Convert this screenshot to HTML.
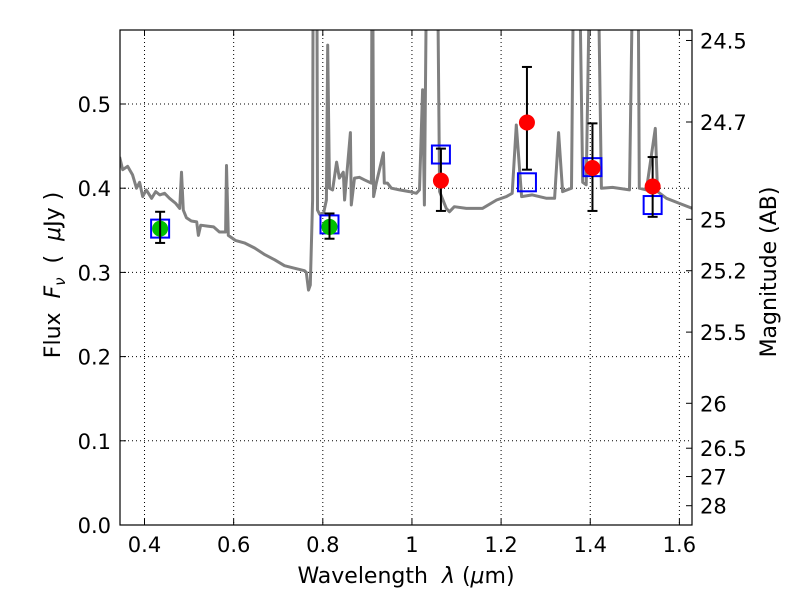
<!DOCTYPE html>
<html><head><meta charset="utf-8"><style>
body{margin:0;background:#fff;}
svg text{font-family:"DejaVu Sans","Liberation Sans",sans-serif;white-space:pre;}
</style></head><body>
<svg id="chart" width="800" height="600" xmlns="http://www.w3.org/2000/svg"></svg>
<script>
const specLam=[0.344,0.351,0.362,0.373,0.382,0.389,0.396,0.404,0.416,0.425,0.434,0.445,0.456,0.470,0.479,0.483,0.487,0.494,0.505,0.517,0.521,0.526,0.541,0.555,0.568,0.582,0.584,0.588,0.604,0.624,0.647,0.670,0.692,0.714,0.736,0.759,0.763,0.768,0.772,0.777,0.779,0.786,0.788,0.793,0.802,0.808,0.811,0.815,0.822,0.831,0.837,0.846,0.849,0.862,0.864,0.871,0.882,0.893,0.909,0.911,0.914,0.920,0.936,0.938,0.945,0.954,0.972,0.994,1.010,1.017,1.024,1.028,1.035,1.055,1.062,1.077,1.084,1.095,1.122,1.158,1.190,1.212,1.225,1.234,1.246,1.270,1.302,1.320,1.329,1.338,1.358,1.365,1.372,1.383,1.391,1.403,1.414,1.425,1.450,1.488,1.499,1.506,1.510,1.526,1.546,1.551,1.571,1.600,1.629];
const specFlux=[0.437,0.422,0.426,0.416,0.400,0.407,0.390,0.398,0.388,0.396,0.392,0.394,0.388,0.382,0.376,0.419,0.374,0.365,0.361,0.360,0.344,0.356,0.355,0.354,0.348,0.348,0.427,0.344,0.338,0.335,0.329,0.321,0.315,0.308,0.305,0.302,0.300,0.279,0.285,0.386,0.8,0.8,0.374,0.369,0.371,0.386,0.570,0.400,0.398,0.431,0.412,0.419,0.386,0.466,0.380,0.412,0.413,0.410,0.406,0.8,0.390,0.406,0.442,0.406,0.406,0.400,0.398,0.396,0.394,0.398,0.517,0.380,0.8,0.8,0.396,0.376,0.372,0.378,0.376,0.376,0.386,0.390,0.394,0.475,0.390,0.392,0.388,0.388,0.466,0.396,0.400,0.8,0.8,0.407,0.404,0.8,0.8,0.400,0.401,0.398,0.8,0.8,0.400,0.398,0.471,0.396,0.388,0.382,0.376];
const greenLam=[0.435,0.815];
const greenFlux=[0.352,0.354];
const greenLo=[0.335,0.340];
const greenHi=[0.372,0.370];
const redLam=[1.065,1.258,1.405,1.540];
const redFlux=[0.409,0.478,0.424,0.402];
const redLo=[0.373,0.422,0.373,0.366];
const redHi=[0.447,0.544,0.477,0.437];
const boxLam=[0.435,0.815,1.065,1.258,1.405,1.540];
const boxFlux=[0.352,0.357,0.440,0.407,0.425,0.380];
const xTicks=[0.4,0.6,0.8,1.0,1.2,1.4,1.6];
const xTickLabels=["0.4","0.6","0.8","1","1.2","1.4","1.6"];
const yTicks=[0,0.1,0.2,0.3,0.4,0.5];
const yTickLabels=["0.0","0.1","0.2","0.3","0.4","0.5"];
const magTicks=[24.5,24.7,25,25.2,25.5,26,26.5,27,28];
const magLabels=["24.5","24.7","25","25.2","25.5","26","26.5","27","28"];

const L=120,R=692,T=30,B=525;
const X0=0.345,X1=1.6283,Y0=0,Y1=(B-T)/842;
const sx=v=>L+(v-X0)/(X1-X0)*(R-L);
const sy=v=>B-(v-Y0)/(Y1-Y0)*(B-T);
const NS="http://www.w3.org/2000/svg";
const svg=document.getElementById('chart');
function mk(tag,attrs,parent){const e=document.createElementNS(NS,tag);for(const k in attrs)e.setAttribute(k,attrs[k]);(parent||svg).appendChild(e);return e;}
const defs=mk('defs',{});const cp=mk('clipPath',{id:'clip'},defs);mk('rect',{x:L,y:T,width:R-L,height:B-T},cp);

xTicks.forEach((v,i)=>{
 const g=mk('line',{x1:sx(v),x2:sx(v),y1:T,y2:B,stroke:'#000','stroke-dasharray':'1,3','stroke-width':1});
 
 
 const t=mk('line',{x1:sx(v),x2:sx(v),y1:B,y2:B-6,stroke:'#000'});
 
 
 mk('line',{x1:sx(v),x2:sx(v),y1:T,y2:T+6,stroke:'#000'});
 const lb=mk('text',{x:sx(v),y:B+27,'text-anchor':'middle','font-size':21});
 lb.textContent=xTickLabels[i];
 
 
});
yTicks.forEach((v,i)=>{
 const g=mk('line',{x1:L,x2:R,y1:sy(v),y2:sy(v),stroke:'#000','stroke-dasharray':'1,3','stroke-width':1});
 
 
 const t=mk('line',{x1:L,x2:L+6,y1:sy(v),y2:sy(v),stroke:'#000'});
 
 
 const lb=mk('text',{x:L-9,y:sy(v)+8,'text-anchor':'end','font-size':21});
 lb.textContent=yTickLabels[i];
 
 
});
magTicks.forEach((m,i)=>{
 const f=Math.pow(10,(23.9-m)/2.5);const y=sy(f);
 const t=mk('line',{x1:R,x2:R-6,y1:y,y2:y,stroke:'#000'});
 
 
 const lb=mk('text',{x:R+8,y:y+8,'font-size':21});
 lb.textContent=magLabels[i];
 
 
});

let d='';specLam.forEach((l,i)=>{d+=(i?'L':'M')+sx(l).toFixed(1)+','+sy(specFlux[i]).toFixed(1);});
const sp=mk('path',{d:d,fill:'none',stroke:'#808080','stroke-width':3,'clip-path':'url(#clip)','stroke-linejoin':'round'});



function errbar(l,lo,hi){
 const g=mk('g',{stroke:'#000','stroke-width':2});
 
 
 const x=sx(l);
 mk('line',{x1:x,x2:x,y1:sy(lo),y2:sy(hi)},g);
 mk('line',{x1:x-5,x2:x+5,y1:sy(lo),y2:sy(lo)},g);
 mk('line',{x1:x-5,x2:x+5,y1:sy(hi),y2:sy(hi)},g);
}
boxLam.forEach((l,i)=>{
 const r=mk('rect',{x:sx(l)-9,y:sy(boxFlux[i])-9,width:18,height:18,fill:'none',stroke:'#0000ff','stroke-width':2});
 
 
});
greenLam.forEach((l,i)=>{
 const c=mk('circle',{cx:sx(l),cy:sy(greenFlux[i]),r:8,fill:'#00bf00'});
 
 
 errbar(l,greenLo[i],greenHi[i]);
});
redLam.forEach((l,i)=>{
 errbar(l,redLo[i],redHi[i]);
 const c=mk('circle',{cx:sx(l),cy:sy(redFlux[i]),r:8,fill:'#ff0000'});
 
 
});

const fr=mk('rect',{x:L,y:T,width:R-L,height:B-T,fill:'none',stroke:'#000','stroke-width':1.2});



const xl=mk('text',{x:406,y:583,'text-anchor':'middle','font-size':22});
xl.innerHTML='Wavelength  <tspan font-style="italic">λ</tspan> (<tspan font-style="italic">μ</tspan>m)';


const yl=mk('text',{x:0,y:0,'text-anchor':'middle','font-size':22,transform:'translate(60,275) rotate(-90)'});
yl.innerHTML='Flux  <tspan font-style="italic">F</tspan><tspan font-style="italic" font-size="15" dy="5">ν</tspan><tspan dy="-5">  (  </tspan><tspan font-style="italic">μ</tspan>Jy )';


const ml=mk('text',{x:0,y:0,'text-anchor':'middle','font-size':22,transform:'translate(776,272) rotate(-90)'});
ml.textContent='Magnitude (AB)';


</script>
</body></html>
